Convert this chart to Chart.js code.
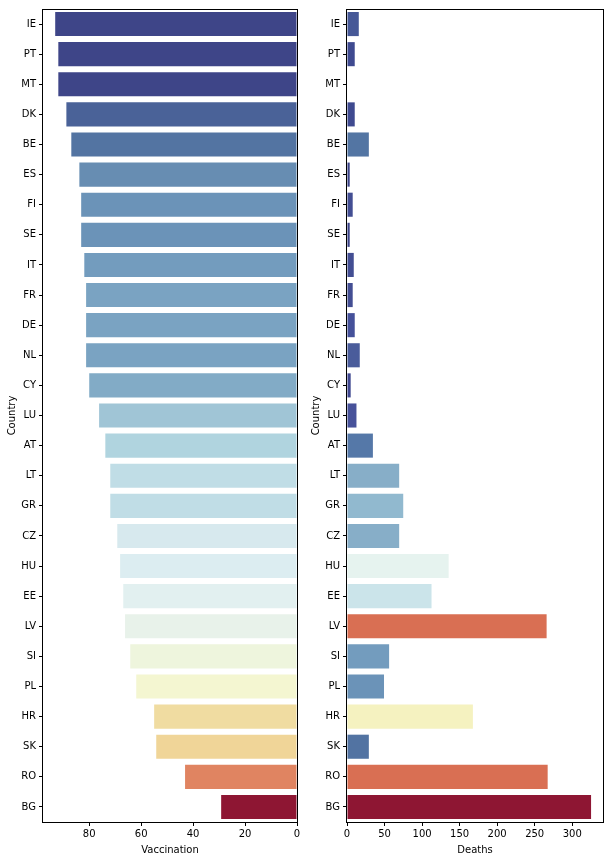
<!DOCTYPE html>
<html>
<head>
<meta charset="utf-8">
<script src="https://cdn.jsdelivr.net/npm/chart.js@4"></script>
<style>
  body { margin: 0; background: #fff; }
  #wrap { position: relative; width: 608px; height: 860px; }
  .box { position: absolute; top: 0; height: 860px; }
</style>
</head>
<body>
<div id="wrap">
  <div class="box" style="left:0;width:300px"><canvas id="vaccChart" width="300" height="860"></canvas></div>
  <div class="box" style="left:300px;width:308px"><canvas id="deathChart" width="308" height="860"></canvas></div>
</div>
<script>
const countries = ['IE', 'PT', 'MT', 'DK', 'BE', 'ES', 'FI', 'SE', 'IT', 'FR', 'DE', 'NL', 'CY', 'LU',
    'AT', 'LT', 'GR', 'CZ', 'HU', 'EE', 'LV', 'SI', 'PL', 'HR', 'SK', 'RO', 'BG'];

const vaccination = [93.1, 91.9, 91.9, 88.8, 86.9, 83.8, 83.1, 83.1, 81.9, 81.2, 81.2, 81.2, 80.0, 76.2,
    73.8, 71.9, 71.9, 69.2, 68.1, 66.9, 66.2, 64.2, 61.9, 55.0, 54.2, 43.1, 29.2];

const deaths = [15.7, 10.3, 0, 10.3, 29.1, 3.6, 7.6, 3.6, 9.0, 7.6, 10.3, 17.0, 4.9, 12.6,
    34.5, 69.5, 74.9, 69.5, 135.4, 112.6, 265.9, 56.1, 49.3, 167.7, 29.1, 267.3, 325.1];

const vaccColors = ['#3e4588', '#3e4588', '#3e4588', '#4a6298', '#5374a2', '#678db2', '#6b93b8', '#6b93b8',
    '#739cbe', '#7aa3c2', '#7aa3c2', '#7aa3c2', '#82abc6', '#a0c5d6', '#b0d4df', '#c0dde6', '#c0dde6',
    '#d7e9ee', '#dcedf1', '#e2f0f0', '#e8f2ea', '#eef5dd', '#f4f6d1', '#f0dca1', '#f0d598', '#e08461', '#8e1633'];

const deathColors = ['#465897', '#3f4a90', '#3d4589', '#3f4a90', '#5375a3', '#3b4388', '#434e93', '#3b4388',
    '#434e93', '#434e93', '#45519a', '#4a5c9b', '#3f4790', '#47529a', '#5578a8', '#87aec8', '#91b9cf',
    '#87aec8', '#e6f3ef', '#cbe4ea', '#d96f53', '#739cbe', '#6b93b8', '#f5f2c0', '#5273a2', '#d96f53', '#8e1633'];

const vaccTicks = [0, 20, 40, 60, 80];
const deathTicks = [0, 50, 100, 150, 200, 250, 300];

Chart.defaults.font.family = "'DejaVu Sans', sans-serif";
Chart.defaults.font.size = 10;
Chart.defaults.color = '#000';
Chart.defaults.animation = false;

// matplotlib draws all four spines
const frame = {
    id: 'frame',
    afterDraw(chart) {
        const { ctx, chartArea: a } = chart;
        ctx.save();
        ctx.strokeStyle = '#000';
        ctx.lineWidth = 1;
        ctx.strokeRect(Math.round(a.left) - 0.5, Math.round(a.top) + 0.5,
            Math.round(a.right - a.left) + 1, Math.round(a.bottom - a.top));
        ctx.restore();
    }
};

const makeChart = (id, values, colors, opts) => {
    const ctx = document.getElementById(id).getContext('2d');
    return new Chart(ctx, {
        type: 'bar',
        data: {
            labels: countries,
            datasets: [{
                data: values,
                backgroundColor: colors,
                borderWidth: 0,
                barPercentage: 0.8,
                categoryPercentage: 1
            }]
        },
        options: {
            indexAxis: 'y',
            responsive: false,
            layout: { padding: opts.padding },
            plugins: { legend: { display: false }, tooltip: { enabled: false } },
            scales: {
                x: {
                    min: 0,
                    max: opts.max,
                    reverse: opts.reverse,
                    afterBuildTicks: scale => { scale.ticks = opts.ticks.map(v => ({ value: v })); },
                    afterFit: scale => { scale.height = 38; },
                    grid: { drawOnChartArea: false, drawTicks: true, tickLength: 4, color: '#000' },
                    border: { display: false },
                    ticks: { padding: 2, maxRotation: 0 },
                    title: { display: true, text: opts.title, padding: { top: 2, bottom: 4 } }
                },
                y: {
                    afterFit: scale => { scale.width = opts.yWidth; },
                    grid: { offset: false, drawOnChartArea: false, drawTicks: true, tickLength: 4, color: '#000' },
                    border: { display: false },
                    ticks: { padding: 3 },
                    title: { display: true, text: 'Country', padding: { top: opts.titlePad, bottom: 2 } }
                }
            }
        },
        plugins: [frame]
    });
};

makeChart('vaccChart', vaccination, vaccColors, {
    max: 97.8, reverse: true, ticks: vaccTicks, title: 'Vaccination', titlePad: 6,
    yWidth: 43, padding: { top: 6, right: 3, left: 0, bottom: 0 }
});

makeChart('deathChart', deaths, deathColors, {
    max: 341, reverse: false, ticks: deathTicks, title: 'Deaths', titlePad: 10,
    yWidth: 47, padding: { top: 6, right: 5, left: 0, bottom: 0 }
});
</script>
</body>
</html>
